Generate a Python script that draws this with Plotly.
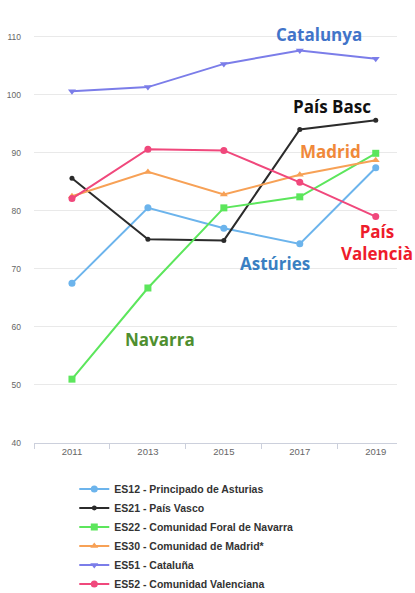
import plotly.graph_objects as go

# Years on the category axis
years = ["2011", "2013", "2015", "2017", "2019"]

# Regional index values per year
asturias = [67.5, 80.5, 77.0, 74.3, 87.4]
pais_vasco = [85.6, 75.1, 74.9, 94.0, 95.6]
navarra = [51.0, 66.7, 80.5, 82.4, 89.9]
madrid = [82.5, 86.7, 82.8, 86.2, 88.7]
cataluna = [100.6, 101.3, 105.3, 107.6, 106.2]
valenciana = [82.1, 90.6, 90.4, 84.9, 79.0]

series_names = [
    "ES12 - Principado de Asturias",
    "ES21 - País Vasco",
    "ES22 - Comunidad Foral de Navarra",
    "ES30 - Comunidad de Madrid*",
    "ES51 - Cataluña",
    "ES52 - Comunidad Valenciana",
]

y_ticks = [40, 50, 60, 70, 80, 90, 100, 110]

series = [
    (series_names[0], asturias, "#6cb4ec", "circle", 7),
    (series_names[1], pais_vasco, "#2b2b2b", "circle", 5),
    (series_names[2], navarra, "#5ce65c", "square", 7),
    (series_names[3], madrid, "#f7a156", "triangle-up", 7),
    (series_names[4], cataluna, "#7b7de9", "triangle-down", 7),
    (series_names[5], valenciana, "#f0487c", "circle", 7),
]

fig = go.Figure()
for name, vals, color, symbol, size in series:
    fig.add_trace(go.Scatter(
        x=years, y=vals, name=f"<b>{name}</b>", mode="lines+markers",
        line=dict(color=color, width=2),
        marker=dict(color=color, symbol=symbol, size=size),
    ))

# Region labels written next to the lines
labels = [
    ("Catalunya", 3.25, 110.4, "#4174c9"),
    ("País Basc", 3.42, 97.9, "#111111"),
    ("Madrid", 3.41, 90.2, "#f0893a"),
    ("Astúries", 2.68, 71.0, "#3a7fc2"),
    ("País<br>Valencià", 4.02, 74.5, "#ee1c2c"),
    ("Navarra", 1.16, 57.8, "#4f8f2f"),
]
for text, x, y, color in labels:
    fig.add_annotation(
        x=x, y=y, xref="x", yref="y", text=f"<b>{text}</b>", showarrow=False,
        font=dict(family="Open Sans", size=17, color=color),
        xanchor="center", yanchor="middle", align="center",
    )

fig.update_layout(
    width=415, height=593,
    margin=dict(l=34, r=18, t=25, b=150, autoexpand=False),
    paper_bgcolor="white", plot_bgcolor="white",
    showlegend=True,
    legend=dict(
        xref="container", yref="container",
        x=0.179, y=0.2, xanchor="left", yanchor="top",
        font=dict(family="Liberation Sans", size=10.5, color="#333333"),
        itemwidth=30, tracegroupgap=0, bgcolor="rgba(0,0,0,0)",
    ),
    xaxis=dict(
        type="category", range=[-0.5, 4.28], showgrid=False,
        showline=True, linecolor="#ccd0dc", linewidth=1,
        ticks="outside", tickson="boundaries", ticklen=5, tickcolor="#ccd0dc",
        tickfont=dict(family="Liberation Sans", size=9.5, color="#666666"),
    ),
    yaxis=dict(
        range=[40, 112], tickvals=y_ticks, showgrid=True, gridcolor="#e9e9e9",
        gridwidth=1, zeroline=False, showline=False, ticklabelstandoff=12,
        tickfont=dict(family="Liberation Sans", size=8.5, color="#666666"),
    ),
)

fig.write_html("out.html")
